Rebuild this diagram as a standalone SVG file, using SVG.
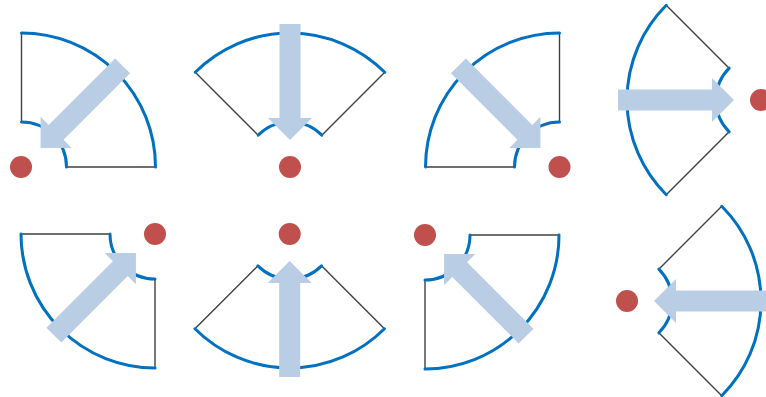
<svg xmlns="http://www.w3.org/2000/svg" xmlns:xlink="http://www.w3.org/1999/xlink" width="766" height="397" viewBox="0 0 766 397">
<style>
.arc{fill:none;stroke:#0070C0;stroke-width:3;stroke-linecap:round}
.edge{fill:none;stroke:#404040;stroke-width:1.4}
.dot{fill:#C0504D}
.arr{fill:#B9CDE5}
</style>
<defs>
<g id="sector">
<path class="edge" d="M -94.75 -94.75 L -31.82 -31.82 M 94.75 -94.75 L 31.82 -31.82"/>
<path class="arc" d="M -94.75 -94.75 A 134 134 0 0 1 94.75 -94.75"/>
<path class="arc" d="M -31.82 -31.82 A 45 45 0 0 1 31.82 -31.82"/>
</g>
<polygon id="arrow" class="arr" points="-10.5,-143 10.5,-143 10.5,-49 22,-49 0,-27 -22,-49 -10.5,-49"/>
</defs>
<rect width="766" height="397" fill="#ffffff"/>
<g id="node1"><use xlink:href="#sector" href="#sector" transform="translate(21.5,167) rotate(45)"/><circle class="dot" cx="21" cy="167" r="11"/></g>
<g id="node2"><use xlink:href="#sector" href="#sector" transform="translate(290,167) rotate(0)"/><circle class="dot" cx="290" cy="167" r="11"/></g>
<g id="node3"><use xlink:href="#sector" href="#sector" transform="translate(559.5,167) rotate(-45)"/><circle class="dot" cx="559.5" cy="167" r="11"/></g>
<g id="node4"><use xlink:href="#sector" href="#sector" transform="translate(761,100) rotate(-90)"/><circle class="dot" cx="761" cy="100" r="11"/></g>
<g id="node5"><use xlink:href="#sector" href="#sector" transform="translate(155,234) rotate(-135)"/><circle class="dot" cx="155" cy="234" r="11"/></g>
<g id="node6"><use xlink:href="#sector" href="#sector" transform="translate(289.7,234) rotate(180)"/><circle class="dot" cx="289.7" cy="234" r="11"/></g>
<g id="node7"><use xlink:href="#sector" href="#sector" transform="translate(425,235) rotate(135)"/><circle class="dot" cx="425" cy="235" r="11"/></g>
<g id="node8"><use xlink:href="#sector" href="#sector" transform="translate(627,301) rotate(90)"/><circle class="dot" cx="627" cy="301" r="11"/></g>
<g id="connectors">
<use xlink:href="#arrow" href="#arrow" transform="translate(21.5,167) rotate(45)"/>
<use xlink:href="#arrow" href="#arrow" transform="translate(290,167) rotate(0)"/>
<use xlink:href="#arrow" href="#arrow" transform="translate(559.5,167) rotate(-45)"/>
<use xlink:href="#arrow" href="#arrow" transform="translate(761,100) rotate(-90)"/>
<use xlink:href="#arrow" href="#arrow" transform="translate(155,234) rotate(-135)"/>
<use xlink:href="#arrow" href="#arrow" transform="translate(289.7,234) rotate(180)"/>
<use xlink:href="#arrow" href="#arrow" transform="translate(425,235) rotate(135)"/>
<use xlink:href="#arrow" href="#arrow" transform="translate(627,301) rotate(90)"/>
</g>
</svg>
